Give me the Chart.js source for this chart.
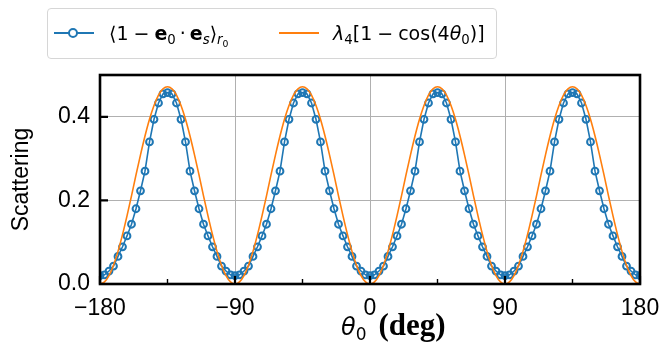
<!DOCTYPE html>
<html>
<head>
<meta charset="utf-8">
<script src="https://cdn.jsdelivr.net/npm/chart.js@4.4.0/dist/chart.umd.min.js"></script>
<style>
  body { margin: 0; background: #fff; }
  #wrap { position: relative; width: 661px; height: 347px; }
  #legend { position: absolute; left: 47px; top: 8px; width: 448px; height: 49px; border: 1px solid #d6d6d6; border-radius: 4px; background: rgba(255,255,255,0.85); font-family: 'DejaVu Sans'; font-size: 19px; color: #000; }
  #legend .item { position: absolute; top: 11px; white-space: nowrap; line-height: 26px; }
  #legend .sym { position: absolute; top: 23px; width: 40px; height: 0; border-top: 2px solid; }
  #legend .dot { position: absolute; top: 19px; width: 6px; height: 6px; border: 2px solid #1f77b4; border-radius: 50%; background: #fff; }
  .op { margin: 0 5px; }
  .dt { margin: 0 4px; }
  sub { font-size: 0.7em; vertical-align: -0.3em; line-height: 0; }
  #xtitle { position: absolute; left: 341px; top: 307px; white-space: nowrap; color: #000; }
</style>
</head>
<body>
<div id="wrap">
  <canvas id="chart" width="661" height="347"></canvas>
  <div id="legend">
    <div class="sym" style="left:6px;border-color:#1f77b4"></div>
    <div class="dot" style="left:20px"></div>
    <div class="item" style="left:61px">⟨1<span class="op">−</span><b>e</b><sub>0</sub><span class="dt">·</span><b>e</b><sub><i>s</i></sub>⟩<sub><i>r</i><sub>0</sub></sub></div>
    <div class="sym" style="left:231px;border-color:#ff7f0e"></div>
    <div class="item" style="left:285px"><i>λ</i><sub>4</sub>[1<span class="op">−</span>cos(4<i>θ</i><sub>0</sub>)]</div>
  </div>
  <div id="xtitle"><span style="font-family:'DejaVu Sans';font-style:italic;font-size:24px">θ</span><sub style="font-family:'DejaVu Sans';font-size:17px">0</sub><span style="font-family:'Liberation Serif';font-weight:bold;font-size:31px;margin-left:12px">(deg)</span></div>
</div>
<script>
const theta = [
  -180, -177, -174, -171, -168, -165, -162, -159, -156, -153, -150, -147, -144, -141, -138,
  -135, -132, -129, -126, -123, -120, -117, -114, -111, -108, -105, -102, -99, -96, -93,
  -90, -87, -84, -81, -78, -75, -72, -69, -66, -63, -60, -57, -54, -51, -48,
  -45, -42, -39, -36, -33, -30, -27, -24, -21, -18, -15, -12, -9, -6, -3,
  0, 3, 6, 9, 12, 15, 18, 21, 24, 27, 30, 33, 36, 39, 42,
  45, 48, 51, 54, 57, 60, 63, 66, 69, 72, 75, 78, 81, 84, 87,
  90, 93, 96, 99, 102, 105, 108, 111, 114, 117, 120, 123, 126, 129, 132,
  135, 138, 141, 144, 147, 150, 153, 156, 159, 162, 165, 168, 171, 174, 177,
  180
];

// simulated <1 - e0.es>
const scattering = [
  0.020, 0.022, 0.031, 0.043, 0.066, 0.089, 0.115, 0.143, 0.180, 0.223, 0.270, 0.340, 0.394, 0.433, 0.455,
  0.458, 0.455, 0.433, 0.394, 0.340, 0.270, 0.223, 0.180, 0.143, 0.115, 0.089, 0.066, 0.043, 0.031, 0.022,
  0.020, 0.022, 0.031, 0.043, 0.066, 0.089, 0.115, 0.143, 0.180, 0.223, 0.270, 0.340, 0.394, 0.433, 0.455,
  0.458, 0.455, 0.433, 0.394, 0.340, 0.270, 0.223, 0.180, 0.143, 0.115, 0.089, 0.066, 0.043, 0.031, 0.022,
  0.020, 0.022, 0.031, 0.043, 0.066, 0.089, 0.115, 0.143, 0.180, 0.223, 0.270, 0.340, 0.394, 0.433, 0.455,
  0.458, 0.455, 0.433, 0.394, 0.340, 0.270, 0.223, 0.180, 0.143, 0.115, 0.089, 0.066, 0.043, 0.031, 0.022,
  0.020, 0.022, 0.031, 0.043, 0.066, 0.089, 0.115, 0.143, 0.180, 0.223, 0.270, 0.340, 0.394, 0.433, 0.455,
  0.458, 0.455, 0.433, 0.394, 0.340, 0.270, 0.223, 0.180, 0.143, 0.115, 0.089, 0.066, 0.043, 0.031, 0.022,
  0.020
];

// lambda4 [1 - cos(4 theta0)]
const fitCurve = [
  0.000, 0.005, 0.020, 0.045, 0.078, 0.118, 0.163, 0.211, 0.261, 0.309, 0.354, 0.394, 0.427, 0.452, 0.467,
  0.472, 0.467, 0.452, 0.427, 0.394, 0.354, 0.309, 0.261, 0.211, 0.163, 0.118, 0.078, 0.045, 0.020, 0.005,
  0.000, 0.005, 0.020, 0.045, 0.078, 0.118, 0.163, 0.211, 0.261, 0.309, 0.354, 0.394, 0.427, 0.452, 0.467,
  0.472, 0.467, 0.452, 0.427, 0.394, 0.354, 0.309, 0.261, 0.211, 0.163, 0.118, 0.078, 0.045, 0.020, 0.005,
  0.000, 0.005, 0.020, 0.045, 0.078, 0.118, 0.163, 0.211, 0.261, 0.309, 0.354, 0.394, 0.427, 0.452, 0.467,
  0.472, 0.467, 0.452, 0.427, 0.394, 0.354, 0.309, 0.261, 0.211, 0.163, 0.118, 0.078, 0.045, 0.020, 0.005,
  0.000, 0.005, 0.020, 0.045, 0.078, 0.118, 0.163, 0.211, 0.261, 0.309, 0.354, 0.394, 0.427, 0.452, 0.467,
  0.472, 0.467, 0.452, 0.427, 0.394, 0.354, 0.309, 0.261, 0.211, 0.163, 0.118, 0.078, 0.045, 0.020, 0.005,
  0.000
];

const xTicks = [-180, -90, 0, 90, 180];
const xMinorTicks = [-135, -45, 45, 135];
const yTicks = [0, 0.2, 0.4];

const BLUE = '#1f77b4';
const ORANGE = '#ff7f0e';

// matplotlib-ish frame with inward ticks
const frame = {
  id: 'frame',
  afterDatasetsDraw(chart) {
    const { ctx, chartArea: a, scales: { x, y } } = chart;
    ctx.save();
    ctx.strokeStyle = '#000';
    ctx.lineWidth = 1.4;
    ctx.beginPath();
    xMinorTicks.forEach(v => {
      const px = x.getPixelForValue(v);
      ctx.moveTo(px, a.bottom); ctx.lineTo(px, a.bottom - 5);
    });
    ctx.stroke();
    ctx.lineWidth = 2.2;
    ctx.beginPath();
    xTicks.forEach(v => {
      const px = x.getPixelForValue(v);
      ctx.moveTo(px, a.bottom); ctx.lineTo(px, a.bottom - 8);
    });
    yTicks.forEach(v => {
      const py = y.getPixelForValue(v);
      ctx.moveTo(a.left, py); ctx.lineTo(a.left + 8, py);
    });
    ctx.stroke();
    ctx.lineWidth = 2.6;
    ctx.strokeRect(a.left, a.top, a.right - a.left, a.bottom - a.top);
    ctx.restore();
  }
};

const tickFont = { family: 'Liberation Sans', size: 23 };

new Chart(document.getElementById('chart'), {
  type: 'line',
  data: {
    datasets: [
      {
        label: 'scattering',
        data: theta.map((t, i) => ({ x: t, y: scattering[i] })),
        borderColor: BLUE,
        borderWidth: 1.6,
        pointRadius: 3.4,
        pointBorderWidth: 2,
        pointBorderColor: BLUE,
        pointBackgroundColor: 'rgba(0,0,0,0)',
        tension: 0,
        clip: 0,
        order: 1
      },
      {
        label: 'fit',
        data: theta.map((t, i) => ({ x: t, y: fitCurve[i] })),
        borderColor: ORANGE,
        borderWidth: 1.6,
        pointRadius: 0,
        cubicInterpolationMode: 'monotone',
        clip: 0,
        order: 0
      }
    ]
  },
  options: {
    responsive: false,
    animation: false,
    layout: { padding: { left: 8, right: 21, top: 75, bottom: 0 } },
    plugins: { legend: { display: false }, tooltip: { enabled: false } },
    scales: {
      x: {
        type: 'linear', min: -180, max: 180,
        afterBuildTicks: s => { s.ticks = xTicks.map(v => ({ value: v })); },
        afterFit: s => { s.height = 63; s.paddingLeft = 0; s.paddingRight = 0; },
        ticks: { font: tickFont, color: '#000', padding: 11, maxRotation: 0, autoSkip: false,
          callback: v => String(v).replace('-', '\u2212') },
        grid: { color: '#b0b0b0', lineWidth: 1, drawTicks: false },
        border: { display: false }
      },
      y: {
        min: 0, max: 0.5,
        afterBuildTicks: s => { s.ticks = yTicks.map(v => ({ value: v })); },
        afterFit: s => { s.width = 92; s.paddingTop = 0; s.paddingBottom = 0; },
        ticks: { font: tickFont, color: '#000', padding: 10, callback: v => v.toFixed(1) },
        grid: { color: '#b0b0b0', lineWidth: 1, drawTicks: false },
        border: { display: false },
        title: { display: true, text: 'Scattering', font: tickFont, color: '#000', padding: 0 }
      }
    }
  },
  plugins: [frame]
});
</script>
</body>
</html>
